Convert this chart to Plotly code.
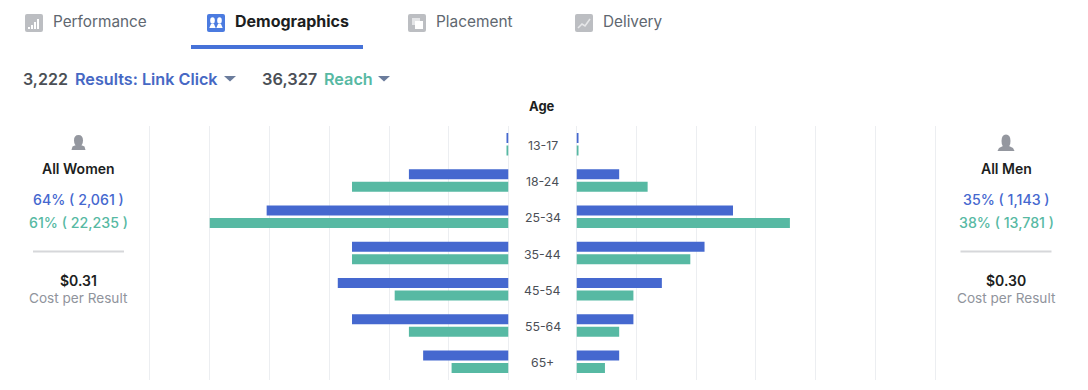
import plotly.graph_objects as go
from plotly.subplots import make_subplots

ages = ["13-17", "18-24", "25-34", "35-44", "45-54", "55-64", "65+"]
women_results = [0.1, 7, 17, 11, 12, 11, 6]
women_reach = [0.1, 11, 21, 11, 8, 7, 4]
men_results = [0.1, 3, 11, 9, 6, 4, 3]
men_reach = [0.1, 5, 15, 8, 4, 3, 2]

BLUE = "#4568cf"
GREEN = "#57b9a3"
W, H = 1088, 390
FONT = "Inter, 'Open Sans', sans-serif"
GRID = "#eceef1"
DTICK = 4.2
MAXV = 25.305

fig = make_subplots(rows=1, cols=2, shared_yaxes=True)
for col, (res, rea) in enumerate([(women_results, women_reach), (men_results, men_reach)], start=1):
    fig.add_trace(go.Bar(y=ages, x=res, orientation="h", marker=dict(color=BLUE, line_width=0), name="Results"), row=1, col=col)
    fig.add_trace(go.Bar(y=ages, x=rea, orientation="h", marker=dict(color=GREEN, line_width=0), name="Reach"), row=1, col=col)

axis = dict(showticklabels=False, ticks="", dtick=DTICK, tick0=0, showgrid=True, gridcolor=GRID, gridwidth=1,
            zeroline=True, zerolinecolor=GRID, zerolinewidth=1, showline=False)
fig.update_xaxes(**axis)
yaxis_style = dict(domain=[1 - 380 / H, 1 - 126 / H], autorange="reversed", showticklabels=False, ticks="",
                   showgrid=False, zeroline=False, showline=False)
fig.update_layout(
    xaxis=dict(domain=[148.5 / W, 508.5 / W], range=[MAXV, 0]),
    xaxis2=dict(domain=[576.5 / W, 936.5 / W], range=[0, MAXV]),
    yaxis=yaxis_style,
    yaxis2=yaxis_style,
    barmode="group", bargap=0.31, bargroupgap=0.2,
    width=W, height=H, margin=dict(l=0, r=0, t=0, b=0),
    paper_bgcolor="white", plot_bgcolor="white", showlegend=False, hovermode=False,
    font=dict(family=FONT),
)


def px(x, y):
    return f"{x / W:.5f} {1 - y / H:.5f}"


def path(cmds):
    out = []
    for c in cmds:
        op, *pts = c
        out.append(op + " ".join(px(pts[i], pts[i + 1]).replace(" ", ",") for i in range(0, len(pts), 2)))
    return " ".join(out)


def add_path(cmds, fill=None, line=None, lw=0):
    fig.add_shape(type="path", xref="paper", yref="paper", path=path(cmds), fillcolor=fill,
                  line=dict(color=line, width=lw) if line else dict(width=0), layer="above")


def rrect(x0, y0, x1, y1, r, fill):
    add_path([("M", x0 + r, y0), ("L", x1 - r, y0), ("Q", x1, y0, x1, y0 + r), ("L", x1, y1 - r),
              ("Q", x1, y1, x1 - r, y1), ("L", x0 + r, y1), ("Q", x0, y1, x0, y1 - r), ("L", x0, y0 + r),
              ("Q", x0, y0, x0 + r, y0), ("Z",)], fill=fill)


def rect(x0, y0, x1, y1, fill):
    add_path([("M", x0, y0), ("L", x1, y0), ("L", x1, y1), ("L", x0, y1), ("Z",)], fill=fill)


def head(cx, cy, rx, ry, fill):
    add_path([("M", cx - rx, cy), ("Q", cx - rx, cy - ry, cx, cy - ry), ("Q", cx + rx, cy - ry, cx + rx, cy),
              ("Q", cx + rx, cy + ry, cx, cy + ry), ("Q", cx - rx, cy + ry, cx - rx, cy), ("Z",)], fill=fill)


def txt(x, y, s, size, color, weight=400, anchor="center"):
    if anchor == "left":
        x -= 2
    fig.add_annotation(xref="paper", yref="paper", x=x / W, y=1 - y / H, text=s, showarrow=False,
                       xanchor=anchor, yanchor="middle", align="center",
                       font=dict(family=FONT, size=size, color=color, weight=weight))


GREY_ICON = "#bcbec2"
GLYPH = "#ffffff"

# tabs
rrect(25, 14, 43, 32, 2, GREY_ICON)
for i, h in enumerate([2, 4, 7, 10]):
    rect(28 + i * 3, 29 - h, 30 + i * 3, 29, GLYPH)
rrect(207, 14, 225, 32, 2, "#4b7be0")
for cx in (212.5, 219.5):
    head(cx, 20.5, 2.3, 3.3, GLYPH)
    add_path([("M", cx - 3.2, 28), ("L", cx - 1.5, 24), ("L", cx + 1.5, 24), ("L", cx + 3.2, 28), ("Z",)], fill=GLYPH)
rrect(408, 14, 426, 32, 2, GREY_ICON)
rect(412, 18, 420, 25, "#e4e5e7")
rect(415, 21, 423, 29, GLYPH)
rrect(575, 14, 593, 32, 2, GREY_ICON)
add_path([("M", 578, 28), ("L", 582, 24), ("L", 585, 26), ("L", 590, 19)], line="#e6e7e9", lw=1.6)

txt(53, 21, "Performance", 15.3, "#606770", 400, "left")
txt(235, 21, "Demographics", 16, "#1c1e21", 700, "left")
txt(436, 21, "Placement", 15.4, "#606770", 400, "left")
txt(603, 21, "Delivery", 15.3, "#606770", 400, "left")
rect(191, 45, 363, 49, "#4672d8")

# summary row
txt(23, 79, "3,222", 16, "#4b4f56", 600, "left")
txt(75, 79, "Results: Link Click", 16.2, "#4668c4", 600, "left")
add_path([("M", 224, 76), ("L", 236, 76), ("L", 230, 81.5), ("Z",)], fill="#6b7c9c")
txt(262, 79, "36,327", 16.4, "#4b4f56", 600, "left")
txt(324, 79, "Reach", 16.2, "#57b9a3", 600, "left")
add_path([("M", 378, 76), ("L", 390, 76), ("L", 384, 81.5), ("Z",)], fill="#6b7c9c")
txt(542, 106, "Age", 13, "#1c1e21", 700)

# age labels
for a in ages:
    fig.add_annotation(xref="paper", yref="y", x=542.5 / W, y=a, text=a, showarrow=False, xanchor="center",
                       yanchor="middle", yshift=-1, font=dict(family=FONT, size=12.3, color="#4b4f56"))

# side panels
ICON = "#94979f"
head(78.5, 140.5, 4.5, 5.5, ICON)
add_path([("M", 71.5, 150), ("L", 72.5, 146.5), ("L", 76, 145), ("L", 81, 145), ("L", 84.5, 146.5), ("L", 85.5, 150), ("Z",)], fill=ICON)
head(1006, 141, 4.5, 6.5, ICON)
add_path([("M", 997.5, 151), ("L", 999, 148), ("L", 1003, 146), ("L", 1009, 146), ("L", 1013, 148), ("L", 1014.5, 151), ("Z",)], fill=ICON)

for cx, title, r1, r2, cost in [
    (78.5, "All Women", "64% ( 2,061 )", "61% ( 22,235 )", "$0.31"),
    (1006, "All Men", "35% ( 1,143 )", "38% ( 13,781 )", "$0.30"),
]:
    txt(cx, 168.5, title, 14, "#1c1e21", 600)
    txt(cx, 200, r1, 14.2, BLUE, 500)
    txt(cx, 222.5, r2, 14.2, GREEN, 500)
    rect(cx - 45.5, 250.5, cx + 45.5, 252.5, "#d6d7da")
    txt(cx, 280, cost, 14, "#1c1e21", 600)
    txt(cx, 298, "Cost per Result", 13.6, "#90949c", 400)

fig.write_html("out.html", config={"displayModeBar": False}, post_script="document.body.style.margin='0';")
